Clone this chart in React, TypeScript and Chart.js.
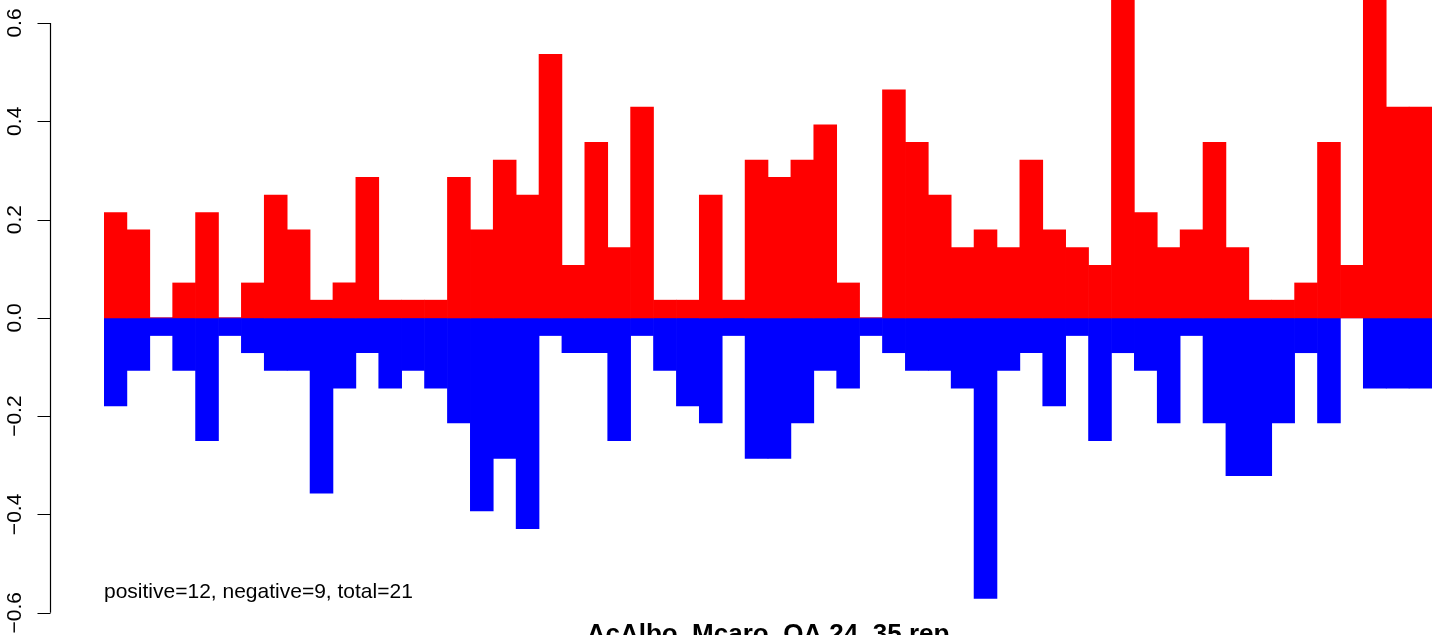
import React, { useEffect, useRef } from "react";
import { Chart, registerables } from "chart.js";

Chart.register(...registerables);

// ---- data ----
const binLabels: string[] = Array.from({ length: 58 }, (_, i) => String(i + 1));

const positiveValues: number[] = [
  0.214, 0.179, 0, 0.071, 0.214, 0, 0.071, 0.25, 0.179, 0.036,
  0.071, 0.286, 0.036, 0.036, 0.036, 0.286, 0.179, 0.321, 0.25, 0.536,
  0.107, 0.357, 0.143, 0.429, 0.036, 0.036, 0.25, 0.036, 0.321, 0.286,
  0.321, 0.393, 0.071, 0, 0.464, 0.357, 0.25, 0.143, 0.179, 0.143,
  0.321, 0.179, 0.143, 0.107, 0.679, 0.214, 0.143, 0.179, 0.357, 0.143,
  0.036, 0.036, 0.071, 0.357, 0.107, 0.679, 0.429, 0.429,
];

const negativeValues: number[] = [
  -0.179, -0.107, -0.036, -0.107, -0.25, -0.036, -0.071, -0.107, -0.107, -0.357,
  -0.143, -0.071, -0.143, -0.107, -0.143, -0.214, -0.393, -0.286, -0.429, -0.036,
  -0.071, -0.071, -0.25, -0.036, -0.107, -0.179, -0.214, -0.036, -0.286, -0.286,
  -0.214, -0.107, -0.143, -0.036, -0.071, -0.107, -0.107, -0.143, -0.571, -0.107,
  -0.071, -0.179, -0.036, -0.25, -0.071, -0.107, -0.214, -0.036, -0.214, -0.321,
  -0.321, -0.214, -0.071, -0.214, 0, -0.143, -0.143, -0.143,
];

const yTickValues: number[] = [-0.6, -0.4, -0.2, 0, 0.2, 0.4, 0.6];
const yTickLabels: string[] = ["\u22120.6", "\u22120.4", "\u22120.2", "0.0", "0.2", "0.4", "0.6"];

const annotationText = "positive=12, negative=9, total=21";
const titleText = "AcAlbo_Mcaro_OA 24_35 rep";

// ---- layout / style ----
const W = 1439;
const H = 635;
const Y_MIN = -0.6454;
const Y_MAX = 0.6468;
const AXIS_X = 50.5;
const TICK_LEN = 13;
const LABEL_X = 21;
const FONT = '"Liberation Sans", Arial, Helvetica, sans-serif';

const rAxisPlugin = {
  id: "rAxis",
  afterDraw(chart: any) {
    const ctx = chart.ctx as CanvasRenderingContext2D;
    const y = chart.scales.y;
    ctx.save();
    ctx.strokeStyle = "#000";
    ctx.lineWidth = 1.2;
    const top = y.getPixelForValue(yTickValues[yTickValues.length - 1]);
    const bot = y.getPixelForValue(yTickValues[0]);
    ctx.beginPath();
    ctx.moveTo(AXIS_X, top);
    ctx.lineTo(AXIS_X, bot);
    yTickValues.forEach((v) => {
      const py = Math.round(y.getPixelForValue(v)) + 0.5;
      ctx.moveTo(AXIS_X - TICK_LEN, py);
      ctx.lineTo(AXIS_X, py);
    });
    ctx.stroke();

    ctx.fillStyle = "#000";
    ctx.font = `21px ${FONT}`;
    ctx.textAlign = "center";
    ctx.textBaseline = "alphabetic";
    yTickValues.forEach((v, i) => {
      const py = y.getPixelForValue(v);
      ctx.save();
      ctx.translate(LABEL_X, py);
      ctx.rotate(-Math.PI / 2);
      ctx.fillText(yTickLabels[i], 0, 0);
      ctx.restore();
    });

    ctx.textAlign = "left";
    ctx.fillText(annotationText, chart.chartArea.left, 598);

    ctx.font = `bold 26px ${FONT}`;
    ctx.textAlign = "center";
    ctx.fillText(titleText, 768, 642);
    ctx.restore();
  },
};

export default function App() {
  const canvasRef = useRef<HTMLCanvasElement | null>(null);

  useEffect(() => {
    if (!canvasRef.current) return;
    const chart = new Chart(canvasRef.current, {
      type: "bar",
      data: {
        labels: binLabels,
        datasets: [
          {
            label: "positive",
            data: positiveValues,
            backgroundColor: "#FF0000",
            borderWidth: 0,
            grouped: false,
            categoryPercentage: 1,
            barPercentage: 1,
          } as any,
          {
            label: "negative",
            data: negativeValues,
            backgroundColor: "#0000FF",
            borderWidth: 0,
            grouped: false,
            categoryPercentage: 1,
            barPercentage: 1,
          } as any,
        ],
      },
      options: {
        responsive: false,
        animation: false,
        devicePixelRatio: 1,
        layout: { padding: { left: 104, right: 7, top: 0, bottom: 0 } },
        plugins: {
          legend: { display: false },
          tooltip: { enabled: false },
          title: { display: false },
        },
        scales: {
          x: { type: "category", display: false, offset: true, grid: { display: false } },
          y: { type: "linear", display: false, min: Y_MIN, max: Y_MAX },
        },
      },
      plugins: [rAxisPlugin],
    });
    return () => chart.destroy();
  }, []);

  return (
    <div style={{ position: "absolute", left: 0, top: 0, width: W, height: H, overflow: "hidden", background: "#fff" }}>
      <canvas ref={canvasRef} width={W} height={H} style={{ display: "block" }} />
    </div>
  );
}
